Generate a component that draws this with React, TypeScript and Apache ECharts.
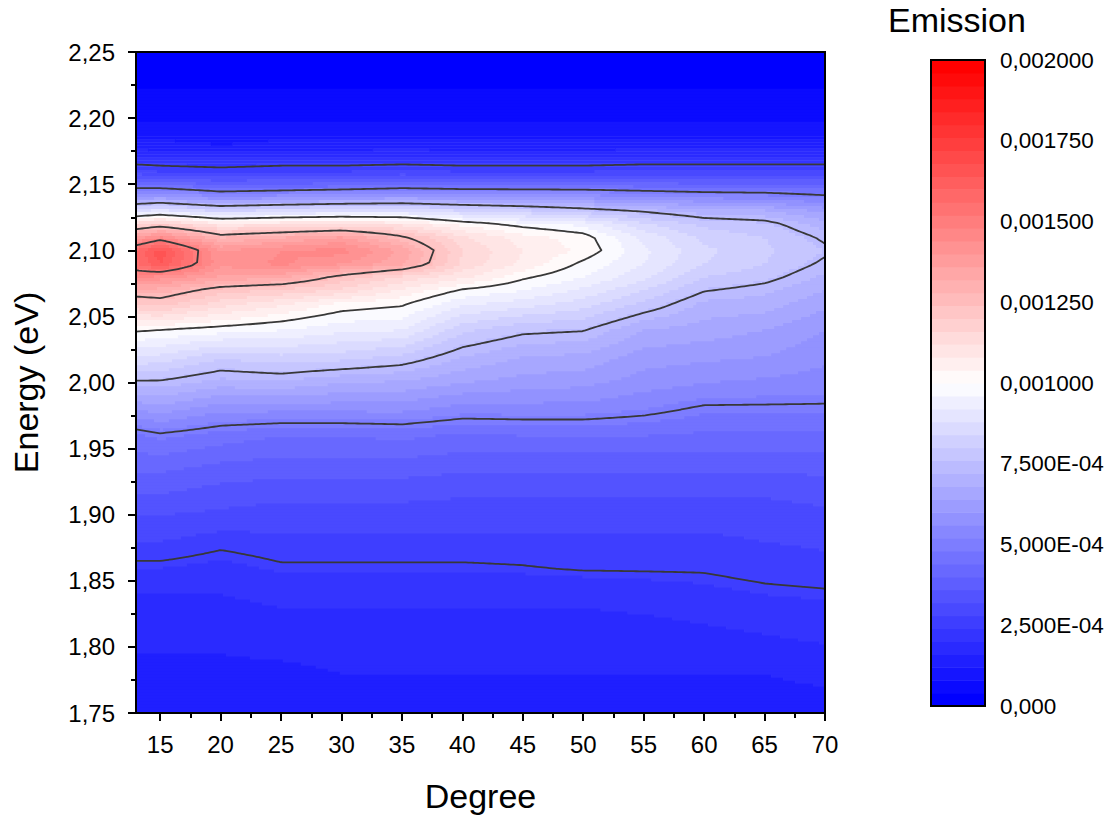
import { useEffect, useRef } from "react";
import * as echarts from "echarts";

// ---------- data ----------
const DEGREE = [13, 15, 20, 25, 30, 35, 40, 45, 50, 55, 60, 65, 70];
const ENERGY = [
  1.75, 1.78, 1.81, 1.84, 1.86, 1.88, 1.9, 1.92, 1.94, 1.96, 1.98, 2.0, 2.02, 2.04,
  2.06, 2.07, 2.08, 2.09, 2.1, 2.11, 2.12, 2.13, 2.14, 2.15, 2.16, 2.18, 2.21, 2.25,
];
// Emission in units of 1e-5, one value per ENERGY row (bottom to top)
const EMISSION_13 = [13, 15, 17, 20, 24, 28, 32, 37, 42, 47, 60, 74, 88, 101, 120, 130, 145, 155, 157, 138, 116, 88, 62, 45, 29, 13, 5, 2];
const EMISSION_15 = [13, 15, 17, 20, 24, 28, 32, 37, 42, 49, 62, 74, 87, 100, 122, 130, 142, 164, 167, 145, 120, 91, 64, 44, 28, 13, 5, 2];
const EMISSION_20 = [13, 15, 17, 20, 23, 26, 31, 35, 40, 46, 57, 70, 81, 98, 114, 122, 135, 141, 140, 128, 110, 84, 58, 40, 27, 12, 5, 2];
const EMISSION_25 = [13, 15, 18, 21, 24.5, 27, 30, 34, 39, 44, 57, 71, 83, 96, 109, 119, 133, 145, 144, 132, 112, 87, 60, 41, 28, 13, 5, 2];
const EMISSION_30 = [14, 16, 18, 21, 24.5, 27, 30, 34, 39, 44, 57, 68, 82, 93, 103, 115, 123, 140, 146, 137, 113, 89, 62, 42, 28, 13, 5, 2];
const EMISSION_35 = [14, 16, 18, 21, 24.5, 27, 30, 34, 39, 45, 57, 67, 79, 92, 101, 107, 115, 133, 135, 126, 111, 89, 64, 44, 29, 13, 5, 2];
const EMISSION_40 = [14, 16, 18, 21, 24.5, 27, 30, 33, 38, 43, 54, 64, 72, 81, 93, 99.5, 109, 115, 116, 113, 103, 85, 62, 43, 28, 13, 5, 2];
const EMISSION_45 = [14, 16, 18, 21, 24.8, 27, 30, 33, 38, 44, 54, 62, 68, 76.5, 90, 96, 101, 107, 108, 106, 98, 82, 61, 43, 28, 13, 5, 2];
const EMISSION_50 = [14, 16, 18, 21, 25.5, 27, 30, 33, 38, 44, 54, 61, 67, 75.5, 86, 91, 96, 99, 103, 102, 95, 78, 60, 43, 28, 13, 5, 2];
const EMISSION_55 = [14, 16, 18, 22, 25.5, 27, 30, 33, 38, 44, 52, 58, 62, 68, 79, 84, 89, 92, 93, 91, 85, 74, 58, 42, 29, 13, 5, 2];
const EMISSION_60 = [14, 16, 19, 23, 25.5, 27, 30, 33, 38, 43, 49, 56, 61, 66, 71, 75.5, 80, 84, 85, 83, 79, 70, 56, 41, 29, 13, 5, 2];
const EMISSION_65 = [14, 16, 20, 24, 26.5, 28, 30, 33, 38, 43, 49, 55, 60, 64, 70, 73, 77, 80, 81, 80, 77, 69, 55, 41, 29, 13, 5, 2];
const EMISSION_70 = [14, 17, 21, 24.5, 27, 28.5, 31, 34, 38, 43, 49, 54, 57, 60, 65, 68, 71, 74, 76, 74, 70, 63, 52, 40, 29, 13, 5, 2];
const EMISSION_COLUMNS = [
  EMISSION_13, EMISSION_15, EMISSION_20, EMISSION_25, EMISSION_30, EMISSION_35, EMISSION_40,
  EMISSION_45, EMISSION_50, EMISSION_55, EMISSION_60, EMISSION_65, EMISSION_70,
];
const EMISSION_UNIT = 1e-5;

const CONTOUR_LEVELS = [0.00025, 0.0005, 0.00075, 0.001, 0.00125, 0.0015];
const X_TICKS = [15, 20, 25, 30, 35, 40, 45, 50, 55, 60, 65, 70];
const X_MINOR_TICKS = [17.5, 22.5, 27.5, 32.5, 37.5, 42.5, 47.5, 52.5, 57.5, 62.5, 67.5];
const COLORBAR_LABELS = ["0,000", "2,500E-04", "5,000E-04", "7,500E-04", "0,001000", "0,001250", "0,001500", "0,001750", "0,002000"];

const X_MIN = 13, X_MAX = 70, Y_MIN = 1.75, Y_MAX = 2.25;
const Z_MIN = 0, Z_MAX = 0.002, N_LEVELS = 50;
const Z_STEP = (Z_MAX - Z_MIN) / N_LEVELS;
const FONT = '"Liberation Sans", Arial, sans-serif';

// ---------- helpers ----------
function findIdx(arr: number[], v: number) {
  let i = 0;
  while (i < arr.length - 2 && v > arr[i + 1]) i++;
  return i;
}
function clamp(v: number, a: number, b: number) {
  return Math.max(a, Math.min(b, v));
}
function emissionAt(x: number, y: number) {
  const i = findIdx(DEGREE, x);
  const j = findIdx(ENERGY, y);
  const tx = clamp((x - DEGREE[i]) / (DEGREE[i + 1] - DEGREE[i]), 0, 1);
  const ty = clamp((y - ENERGY[j]) / (ENERGY[j + 1] - ENERGY[j]), 0, 1);
  const c0 = EMISSION_COLUMNS[i], c1 = EMISSION_COLUMNS[i + 1];
  const v = (1 - tx) * (1 - ty) * c0[j] + tx * (1 - ty) * c1[j] + (1 - tx) * ty * c0[j + 1] + tx * ty * c1[j + 1];
  return v * EMISSION_UNIT;
}
function levelOf(v: number) {
  return clamp(Math.floor((v - Z_MIN) / Z_STEP), 0, N_LEVELS - 1);
}
function levelColor(k: number) {
  const t = k / (N_LEVELS - 1);
  let r: number, g: number, b: number;
  if (t <= 0.5) {
    r = g = Math.round(510 * t);
    b = 255;
  } else {
    r = 255;
    g = b = Math.round(255 * (2 - 2 * t));
  }
  return `rgb(${r},${g},${b})`;
}

// sample grid (data space)
const NX = 230, NY = 220;
const DX = (X_MAX - X_MIN) / NX, DY = (Y_MAX - Y_MIN) / NY;
function buildSamples() {
  const corners: number[][] = [];
  for (let j = 0; j <= NY; j++) {
    const row: number[] = [];
    for (let i = 0; i <= NX; i++) row.push(emissionAt(X_MIN + i * DX, Y_MIN + j * DY));
    corners.push(row);
  }
  const centers: number[][] = [];
  for (let j = 0; j < NY; j++) {
    const row: number[] = [];
    for (let i = 0; i < NX; i++) row.push(emissionAt(X_MIN + (i + 0.5) * DX, Y_MIN + (j + 0.5) * DY));
    centers.push(row);
  }
  return { corners, centers };
}

function contourLines(g: number[][], level: number) {
  const pts = new Map<string, [number, number]>();
  const segs: [string, string][] = [];
  const hKey = (i: number, j: number) => {
    const k = "h" + i + "," + j;
    if (!pts.has(k)) {
      const a = g[j][i], b = g[j][i + 1];
      const t = (level - a) / (b - a);
      pts.set(k, [X_MIN + (i + t) * DX, Y_MIN + j * DY]);
    }
    return k;
  };
  const vKey = (i: number, j: number) => {
    const k = "v" + i + "," + j;
    if (!pts.has(k)) {
      const a = g[j][i], b = g[j + 1][i];
      const t = (level - a) / (b - a);
      pts.set(k, [X_MIN + i * DX, Y_MIN + (j + t) * DY]);
    }
    return k;
  };
  for (let j = 0; j < NY; j++) {
    for (let i = 0; i < NX; i++) {
      const v00 = g[j][i], v10 = g[j][i + 1], v01 = g[j + 1][i], v11 = g[j + 1][i + 1];
      const edges: string[] = [];
      if (v00 >= level !== v10 >= level) edges.push(hKey(i, j));
      if (v10 >= level !== v11 >= level) edges.push(vKey(i + 1, j));
      if (v01 >= level !== v11 >= level) edges.push(hKey(i, j + 1));
      if (v00 >= level !== v01 >= level) edges.push(vKey(i, j));
      if (edges.length === 2) segs.push([edges[0], edges[1]]);
      else if (edges.length === 4) {
        segs.push([edges[0], edges[1]]);
        segs.push([edges[2], edges[3]]);
      }
    }
  }
  const adj = new Map<string, number[]>();
  segs.forEach((s, k) => {
    for (const e of s) {
      if (!adj.has(e)) adj.set(e, []);
      adj.get(e)!.push(k);
    }
  });
  const used = new Array(segs.length).fill(false);
  const lines: [number, number][][] = [];
  const walk = (start: string, out: string[]) => {
    let cur = start;
    for (;;) {
      const nxt = (adj.get(cur) || []).find((m) => !used[m]);
      if (nxt === undefined) break;
      used[nxt] = true;
      const s = segs[nxt];
      cur = s[0] === cur ? s[1] : s[0];
      out.push(cur);
    }
  };
  for (let k = 0; k < segs.length; k++) {
    if (used[k]) continue;
    used[k] = true;
    const fwd: string[] = [];
    walk(segs[k][1], fwd);
    const back: string[] = [];
    walk(segs[k][0], back);
    const chain = back.reverse().concat([segs[k][0], segs[k][1]], fwd);
    lines.push(chain.map((c) => pts.get(c)!));
  }
  return lines;
}

export default function App() {
  const ref = useRef<HTMLDivElement>(null);
  useEffect(() => {
    if (!ref.current) return;
    const chart = echarts.init(ref.current, undefined, { renderer: "svg" });
    const { corners, centers } = buildSamples();
    const contours = CONTOUR_LEVELS.map((lv) => contourLines(corners, lv));

    const renderField = (_params: any, api: any) => {
      const children: any[] = [];
      for (let r = 0; r < NY; r++) {
        const y0 = Y_MIN + r * DY, y1 = y0 + DY;
        const row = centers[r];
        let start = 0;
        let lvl = levelOf(row[0]);
        for (let c = 1; c <= NX; c++) {
          const l = c < NX ? levelOf(row[c]) : -1;
          if (l !== lvl) {
            const p0 = api.coord([X_MIN + start * DX, y1]);
            const p1 = api.coord([X_MIN + c * DX, y0]);
            const padW = c < NX ? 0.7 : 0;
            const padH = r > 0 ? 0.7 : 0;
            children.push({
              type: "rect",
              shape: { x: p0[0], y: p0[1], width: p1[0] - p0[0] + padW, height: p1[1] - p0[1] + padH },
              style: { fill: levelColor(lvl) },
              silent: true,
            });
            start = c;
            lvl = l;
          }
        }
      }
      contours.forEach((lines) => {
        lines.forEach((ln) => {
          if (ln.length < 2) return;
          children.push({
            type: "polyline",
            shape: { points: ln.map((p) => api.coord(p)) },
            style: { stroke: "#383838", lineWidth: 1.8, fill: "none", lineJoin: "round" },
            silent: true,
          });
        });
      });
      return { type: "group", children };
    };

    const renderBand = (_params: any, api: any) => {
      const k = api.value(0);
      const p0 = api.coord([0, (k + 1) * Z_STEP]);
      const p1 = api.coord([1, k * Z_STEP]);
      return {
        type: "rect",
        shape: { x: p0[0], y: p0[1], width: p1[0] - p0[0], height: p1[1] - p0[1] + 0.6 },
        style: { fill: levelColor(k) },
      };
    };

    const bandData = Array.from({ length: N_LEVELS }, (_, k) => [k]);

    chart.setOption({
      animation: false,
      grid: [
        { left: 136, top: 52, width: 689, height: 661, show: true, borderColor: "#000", borderWidth: 2, backgroundColor: "transparent", z: 10 },
        { left: 931, top: 60, width: 54, height: 646, show: true, borderColor: "#000", borderWidth: 2, z: 10 },
      ],
      graphic: [
        { type: "text", left: 888, top: 3, style: { text: "Emission", font: `34px ${FONT}`, fill: "#000" } },
      ],
      xAxis: [
        {
          gridIndex: 0, type: "value", min: X_MIN, max: X_MAX, position: "bottom",
          axisLine: { show: true, onZero: false, lineStyle: { color: "#000", width: 2 } },
          axisTick: { show: true, customValues: X_TICKS, length: 8, lineStyle: { color: "#000", width: 2 } },
          axisLabel: { customValues: X_TICKS, color: "#000", fontSize: 24, fontFamily: FONT, margin: 19 },
          splitLine: { show: false },
          name: "Degree", nameLocation: "middle", nameGap: 66,
          nameTextStyle: { fontSize: 34, fontFamily: FONT, color: "#000" },
        },
        {
          gridIndex: 0, type: "value", min: X_MIN, max: X_MAX, position: "bottom",
          axisLine: { show: false },
          axisTick: { show: true, customValues: X_MINOR_TICKS, length: 5, lineStyle: { color: "#000", width: 2 } },
          axisLabel: { show: false },
          splitLine: { show: false },
        },
        { gridIndex: 1, type: "value", min: 0, max: 1, show: false },
      ],
      yAxis: [
        {
          gridIndex: 0, type: "value", min: Y_MIN, max: Y_MAX, interval: 0.05,
          axisLine: { show: true, onZero: false, lineStyle: { color: "#000", width: 2 } },
          axisTick: { show: true, length: 8, lineStyle: { color: "#000", width: 2 } },
          minorTick: { show: true, splitNumber: 2, length: 5, lineStyle: { color: "#000", width: 2 } },
          axisLabel: {
            color: "#000", fontSize: 24, fontFamily: FONT, margin: 21,
            formatter: (v: number) => v.toFixed(2).replace(".", ","),
          },
          splitLine: { show: false },
          minorSplitLine: { show: false },
          name: "Energy (eV)", nameLocation: "middle", nameGap: 93, nameRotate: 90,
          nameTextStyle: { fontSize: 34, fontFamily: FONT, color: "#000" },
        },
        {
          gridIndex: 1, type: "value", min: Z_MIN, max: Z_MAX, interval: 0.00025, position: "right",
          axisLine: { show: true, lineStyle: { color: "#000", width: 2 } },
          axisTick: { show: true, length: 12, lineStyle: { color: "#000", width: 2 } },
          axisLabel: {
            color: "#000", fontSize: 22.5, fontFamily: FONT, margin: 15,
            formatter: (v: number) => COLORBAR_LABELS[Math.round(v / 0.00025)] ?? "",
          },
          splitLine: { show: false },
        },
      ],
      series: [
        {
          type: "custom", xAxisIndex: 0, yAxisIndex: 0, renderItem: renderField,
          data: [[40, 2.0]], silent: true, clip: true,
        },
        {
          type: "custom", xAxisIndex: 2, yAxisIndex: 1, renderItem: renderBand,
          data: bandData, silent: true,
        },
      ],
    });
    return () => chart.dispose();
  }, []);
  return <div ref={ref} style={{ position: "absolute", left: 0, top: 0, width: 1115, height: 820 }} />;
}
